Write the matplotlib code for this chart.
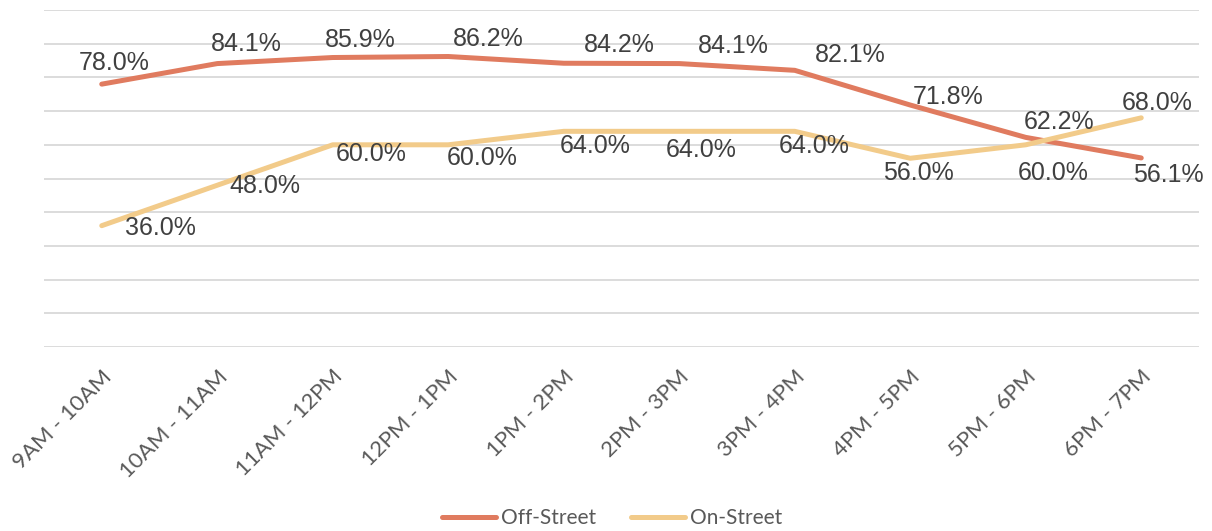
import matplotlib
matplotlib.use("Agg")
import matplotlib.pyplot as plt
import numpy as np

# ---- data ----
slots = ["9AM - 10AM", "10AM - 11AM", "11AM - 12PM", "12PM - 1PM", "1PM - 2PM",
         "2PM - 3PM", "3PM - 4PM", "4PM - 5PM", "5PM - 6PM", "6PM - 7PM"]
off_street = [78.0, 84.1, 85.9, 86.2, 84.2, 84.1, 82.1, 71.8, 62.2, 56.1]
on_street = [36.0, 48.0, 60.0, 60.0, 64.0, 64.0, 64.0, 56.0, 60.0, 68.0]

# label offsets (pixels, right/up) as placed in the original
off_offsets = [(12, 21), (29, 20), (27, 18), (40, 18), (56, 18), (54, 18),
               (56, 15), (38, 8), (33, 15), (27, -17)]
on_offsets = [(59, -2), (48, -1), (38, -9), (34, -13), (31, -15), (22, -19),
               (19, -15), (8, -15), (27, -28), (16, 15)]

off_col = "#E07B5F"
on_col = "#F2CB8A"

fig = plt.figure(figsize=(12.12, 5.31), dpi=100)
ax = fig.add_axes([44 / 1212, 1 - 347 / 531, 1155 / 1212, 337 / 531])

x = np.arange(len(slots))
ax.plot(x, off_street, color=off_col, lw=3.6, solid_capstyle="round", label="Off-Street", zorder=3)
ax.plot(x, on_street, color=on_col, lw=3.6, solid_capstyle="round", label="On-Street", zorder=3)

for xi, v, (dx, dy) in zip(x, off_street, off_offsets):
    ax.annotate(f"{v:.1f}%", (xi, v), xytext=(dx * 0.72, dy * 0.72), textcoords="offset points",
                ha="center", va="center", fontsize=18, family="Liberation Sans", color="#404040", zorder=4)
for xi, v, (dx, dy) in zip(x, on_street, on_offsets):
    ax.annotate(f"{v:.1f}%", (xi, v), xytext=(dx * 0.72, dy * 0.72), textcoords="offset points",
                ha="center", va="center", fontsize=18, family="Liberation Sans", color="#404040", zorder=4)

ax.set_xlim(-0.5, len(slots) - 0.5)
ax.set_ylim(0, 100)
ax.set_yticks(np.arange(0, 101, 10))
ax.set_yticklabels([])
ax.tick_params(axis="y", length=0)
ax.tick_params(axis="x", length=0, pad=14)
ax.grid(axis="y", color="#D9D9D9", lw=1.3)
ax.set_axisbelow(True)
for s in ax.spines.values():
    s.set_visible(False)

ax.set_xticks(x)
ax.set_xticklabels(slots, rotation=45, ha="right", rotation_mode="anchor",
                   fontsize=16, family="Lato", color="#595959")

fig.legend(loc="lower center", bbox_to_anchor=(0.505, -0.03), ncol=2, frameon=False,
           prop={"family": "Lato", "size": 15}, labelcolor="#595959",
           handlelength=2.6, handletextpad=0.2, columnspacing=1.7)

fig.savefig("out.png", dpi=100)
